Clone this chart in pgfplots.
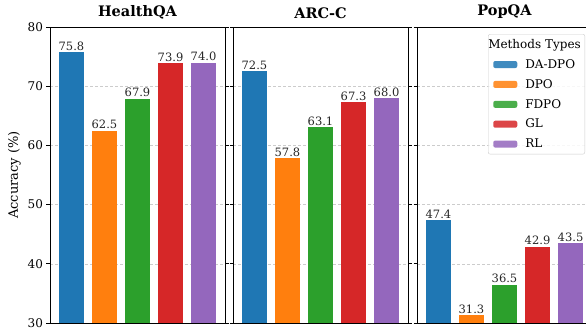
\documentclass[border=0pt]{standalone}
\usepackage{pgfplots}
\pgfplotsset{compat=1.18}
\usepackage{fontspec}
\setmainfont{DejaVu Serif}

\definecolor{cblue}{HTML}{1F77B4}
\definecolor{corange}{HTML}{FF7F0E}
\definecolor{cgreen}{HTML}{2CA02C}
\definecolor{cred}{HTML}{D62728}
\definecolor{cpurple}{HTML}{9467BD}

\pgfplotsset{
  panel/.style={
    scale only axis,
    width=175pt, height=296pt,
    xmin=-0.65, xmax=4.65,
    ymin=30, ymax=80,
    ytick={30,40,50,60,70,80},
    xtick=\empty,
    ymajorgrids,
    grid style={dash pattern=on 3pt off 2pt, black!20, line width=0.6pt},
    axis line style={line width=0.8pt, black},
    tick align=outside,
    major tick length=3.5pt,
    tick style={line width=0.8pt, black},
    y tick label style={font=\fontsize{12}{14}\selectfont},
    /pgf/number format/assume math mode=true,
    ybar, bar width=0.75, bar shift=0pt,
    nodes near coords={\pgfmathprintnumber[fixed,fixed zerofill,precision=1]{\pgfplotspointmeta}},
    every node near coord/.append style={font=\fontsize{11.5}{13}\selectfont, text=black!85, inner sep=1.5pt},
    title style={font=\bfseries\fontsize{14.5}{17}\selectfont, yshift=-1.5pt},
    clip=false,
  },
  pbar/.style={fill=#1, draw=none},
}

\begin{document}
\begin{tikzpicture}
\path[use as bounding box] (0,0) rectangle (586pt,333pt);

% HealthQA
\begin{axis}[panel, at={(50pt,10pt)}, anchor=south west,
  title={HealthQA}, ylabel={Accuracy (\%)},
  ylabel style={font=\fontsize{13}{15}\selectfont}]
  \addplot[pbar=cblue]   coordinates {(0,75.8)};
  \addplot[pbar=corange] coordinates {(1,62.5)};
  \addplot[pbar=cgreen]  coordinates {(2,67.9)};
  \addplot[pbar=cred]    coordinates {(3,73.9)};
  \addplot[pbar=cpurple] coordinates {(4,74.0)};
\end{axis}

% ARC-C
\begin{axis}[panel, at={(233pt,10pt)}, anchor=south west,
  title={ARC-C}, yticklabels=\empty]
  \addplot[pbar=cblue]   coordinates {(0,72.5)};
  \addplot[pbar=corange] coordinates {(1,57.8)};
  \addplot[pbar=cgreen]  coordinates {(2,63.1)};
  \addplot[pbar=cred]    coordinates {(3,67.3)};
  \addplot[pbar=cpurple] coordinates {(4,68.0)};
\end{axis}

% PopQA, carrying the legend
\begin{axis}[panel, at={(417pt,10pt)}, anchor=south west,
  title={PopQA}, yticklabels=\empty,
  legend style={at={(1,1)}, anchor=north east, xshift=-7pt, yshift=-7pt,
    font=\fontsize{12}{14}\selectfont, draw=black!20, rounded corners=2pt,
    fill=white, fill opacity=0.85, text opacity=1,
    row sep=5.5pt, inner xsep=2pt, inner ysep=3pt},
  legend cell align=left,
  legend image code/.code={\path (0pt,0pt) (33pt,0pt);
    \fill[#1] (3pt,-3.5pt) rectangle (27pt,3.5pt);}]
  \addlegendimage{empty legend}
  \addlegendentry{\hspace*{-37pt}Methods Types}
  \addplot[pbar=cblue]   coordinates {(0,47.4)};
  \addlegendentry{DA-DPO}
  \addplot[pbar=corange] coordinates {(1,31.3)};
  \addlegendentry{DPO}
  \addplot[pbar=cgreen]  coordinates {(2,36.5)};
  \addlegendentry{FDPO}
  \addplot[pbar=cred]    coordinates {(3,42.9)};
  \addlegendentry{GL}
  \addplot[pbar=cpurple] coordinates {(4,43.5)};
  \addlegendentry{RL}
\end{axis}
\end{tikzpicture}
\end{document}
